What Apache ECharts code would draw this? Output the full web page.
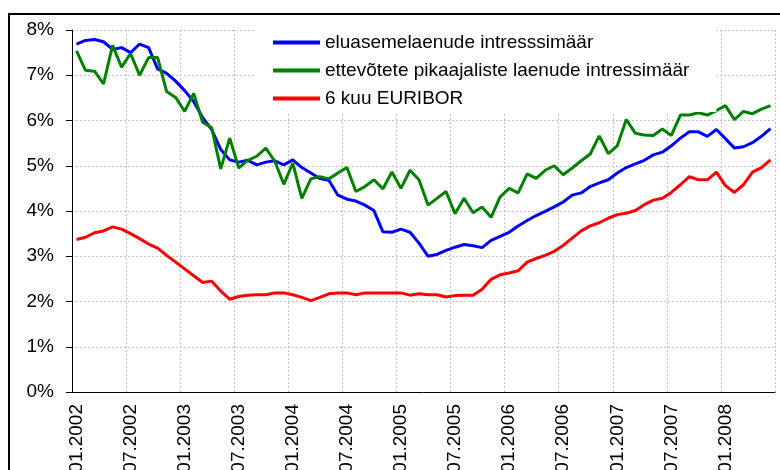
<!DOCTYPE html>
<html>
<head>
<meta charset="utf-8">
<script src="https://cdn.jsdelivr.net/npm/echarts@6/dist/echarts.min.js"></script>
<style>
  html, body { margin: 0; padding: 0; background: #fff; }
  #chart { width: 780px; height: 470px; }
</style>
</head>
<body>
<div id="chart"></div>
<script>
// kuud 01.2002 - 06.2008
const months = [
  '01.2002','02.2002','03.2002','04.2002','05.2002','06.2002','07.2002','08.2002','09.2002','10.2002','11.2002','12.2002',
  '01.2003','02.2003','03.2003','04.2003','05.2003','06.2003','07.2003','08.2003','09.2003','10.2003','11.2003','12.2003',
  '01.2004','02.2004','03.2004','04.2004','05.2004','06.2004','07.2004','08.2004','09.2004','10.2004','11.2004','12.2004',
  '01.2005','02.2005','03.2005','04.2005','05.2005','06.2005','07.2005','08.2005','09.2005','10.2005','11.2005','12.2005',
  '01.2006','02.2006','03.2006','04.2006','05.2006','06.2006','07.2006','08.2006','09.2006','10.2006','11.2006','12.2006',
  '01.2007','02.2007','03.2007','04.2007','05.2007','06.2007','07.2007','08.2007','09.2007','10.2007','11.2007','12.2007',
  '01.2008','02.2008','03.2008','04.2008','05.2008','06.2008'
];

// eluasemelaenude intressimäär
const housingRate = [
  7.69, 7.77, 7.79, 7.74, 7.57, 7.61, 7.50, 7.69, 7.61, 7.14, 7.04, 6.87,
  6.66, 6.42, 6.06, 5.80, 5.36, 5.13, 5.08, 5.12, 5.02, 5.08, 5.11, 5.02,
  5.13, 4.96, 4.84, 4.72, 4.68, 4.35, 4.26, 4.22, 4.13, 4.01, 3.54, 3.53,
  3.60, 3.53, 3.29, 3.00, 3.04, 3.13, 3.20, 3.26, 3.23, 3.19, 3.35, 3.44,
  3.53, 3.67, 3.79, 3.90, 3.99, 4.09, 4.20, 4.35, 4.40, 4.54, 4.62, 4.69,
  4.84, 4.96, 5.04, 5.12, 5.24, 5.30, 5.44, 5.61, 5.75, 5.75, 5.65, 5.80,
  5.60, 5.39, 5.42, 5.51, 5.65, 5.82
];

// ettevõtete pikaajaliste laenude intressimäär
const businessRate = [
  7.54, 7.11, 7.09, 6.81, 7.66, 7.18, 7.48, 7.00, 7.39, 7.39, 6.64, 6.51,
  6.20, 6.60, 5.96, 5.84, 4.93, 5.61, 4.95, 5.12, 5.21, 5.39, 5.10, 4.59,
  5.06, 4.28, 4.71, 4.76, 4.71, 4.84, 4.96, 4.43, 4.54, 4.69, 4.49, 4.86,
  4.50, 4.90, 4.69, 4.13, 4.28, 4.43, 3.94, 4.28, 3.96, 4.09, 3.86, 4.31,
  4.50, 4.40, 4.82, 4.72, 4.90, 5.00, 4.80, 4.95, 5.11, 5.26, 5.66, 5.27,
  5.44, 6.02, 5.72, 5.68, 5.67, 5.81, 5.67, 6.12, 6.12, 6.17, 6.12, 6.22,
  6.33, 6.02, 6.20, 6.15, 6.25, 6.33
];

// 6 kuu EURIBOR
const euribor = [
  3.37, 3.42, 3.52, 3.56, 3.65, 3.60, 3.50, 3.39, 3.27, 3.18, 3.02, 2.87,
  2.72, 2.57, 2.42, 2.45, 2.23, 2.05, 2.11, 2.14, 2.15, 2.15, 2.19, 2.19,
  2.15, 2.09, 2.02, 2.09, 2.17, 2.19, 2.19, 2.15, 2.19, 2.19, 2.19, 2.19,
  2.19, 2.14, 2.17, 2.15, 2.15, 2.10, 2.13, 2.14, 2.14, 2.27, 2.49, 2.59,
  2.63, 2.68, 2.87, 2.95, 3.02, 3.11, 3.24, 3.40, 3.56, 3.67, 3.74, 3.84,
  3.92, 3.95, 4.01, 4.14, 4.24, 4.28, 4.41, 4.58, 4.76, 4.69, 4.69, 4.86,
  4.56, 4.41, 4.58, 4.86, 4.96, 5.13
];

const seriesNames = [
  'eluasemelaenude intresssimäär',
  'ettevõtete pikaajaliste laenude intressimäär',
  '6 kuu EURIBOR'
];

const font = 'Liberation Sans, Arial, sans-serif';
const gridLine = { color: '#c0c0c0', width: 1, type: [2, 2] };

const chart = echarts.init(document.getElementById('chart'));

chart.setOption({
  backgroundColor: '#fff',
  animation: false,
  graphic: [
    {
      // välimine raam
      type: 'rect',
      z: -10,
      shape: { x: 9, y: 14, width: 820, height: 520 },
      style: { fill: 'none', stroke: '#000', lineWidth: 2 }
    }
  ],
  legend: {
    orient: 'vertical',
    left: 256,
    top: 30,
    padding: [3, 27, 4, 17],
    backgroundColor: '#fff',
    itemWidth: 47,
    itemHeight: 4,
    itemGap: 9,
    icon: 'rect',
    textStyle: { color: '#000', fontSize: 19, fontFamily: font },
    data: seriesNames
  },
  grid: {
    left: 72,
    right: 5,
    top: 30,
    bottom: 78,
    outerBoundsMode: 'none'
  },
  xAxis: {
    type: 'category',
    data: months,
    boundaryGap: true,
    axisLine: { lineStyle: { color: '#000', width: 1 } },
    axisTick: { interval: 5, length: 5, lineStyle: { color: '#000' } },
    axisLabel: {
      interval: 5,
      rotate: 90,
      margin: 12,
      color: '#000',
      fontSize: 19,
      fontFamily: font
    },
    splitLine: { show: true, interval: 5, lineStyle: gridLine }
  },
  yAxis: {
    type: 'value',
    min: 0,
    max: 8,
    interval: 1,
    axisLine: { show: true, lineStyle: { color: '#000', width: 1 } },
    axisTick: { show: true, length: 6, lineStyle: { color: '#000' } },
    axisLabel: {
      formatter: '{value}%',
      margin: 18,
      color: '#000',
      fontSize: 19,
      fontFamily: font
    },
    splitLine: { show: true, lineStyle: gridLine }
  },
  series: [
    {
      name: seriesNames[0],
      type: 'line',
      data: housingRate,
      symbol: 'none',
      lineStyle: { color: '#0000ff', width: 3 },
      itemStyle: { color: '#0000ff' }
    },
    {
      name: seriesNames[1],
      type: 'line',
      data: businessRate,
      symbol: 'none',
      lineStyle: { color: '#008000', width: 3 },
      itemStyle: { color: '#008000' }
    },
    {
      name: seriesNames[2],
      type: 'line',
      data: euribor,
      symbol: 'none',
      lineStyle: { color: '#ff0000', width: 3 },
      itemStyle: { color: '#ff0000' }
    }
  ]
});
</script>
</body>
</html>
